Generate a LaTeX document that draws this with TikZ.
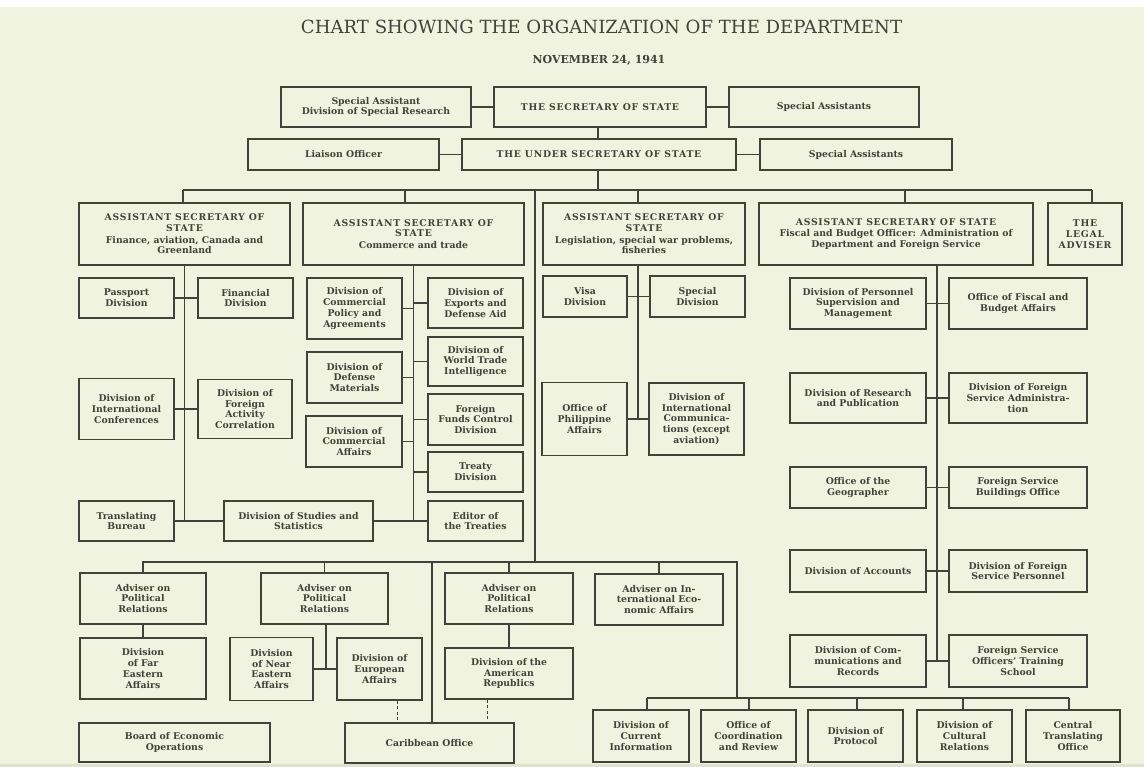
\documentclass[tikz,border=0pt]{standalone}
\usepackage{fontspec}
\setmainfont{DejaVu Serif}
\newfontfamily\capsfont[LetterSpace=8]{DejaVu Serif}

\definecolor{paper}{RGB}{240,243,223}
\definecolor{ink}{RGB}{66,66,58}
\newcommand{\hd}[1]{{\capsfont #1}}

\begin{document}
\begin{tikzpicture}[x=1pt,y=-1pt]
\tikzstyle{box} = [draw=ink,line width=1.3pt,rectangle,align=center,inner sep=1pt,text=ink,font=\bfseries\fontsize{9.3}{10.7}\selectfont]
\tikzstyle{link} = [draw=ink,line width=1.3pt]
\tikzstyle{dashlink} = [link,line width=1pt,dash pattern=on 3pt off 2.5pt]

% paper
\fill[paper] (0,0) rectangle (1144,767);
\fill[white] (0,0) rectangle (1144,7);
\fill[paper!85!gray] (0,764) rectangle (1144,767);
\useasboundingbox (0,0) rectangle (1144,767);

\node[text=ink,font=\fontsize{18.1}{20}\selectfont] (title) at (601.5,27) {CHART SHOWING THE ORGANIZATION OF THE DEPARTMENT};
\node[text=ink,font=\bfseries\fontsize{11}{12}\selectfont] (date) at (599,60) {NOVEMBER 24, 1941};

% top offices
\node[box,minimum width=190,minimum height=40] (spa) at (376,107) {Special Assistant\\Division of Special Research};
\node[box,minimum width=212,minimum height=40] (sec) at (600,107) {\hd{THE SECRETARY OF STATE}};
\node[box,minimum width=190,minimum height=40] (ssa) at (824,107) {Special Assistants};
\node[box,minimum width=191,minimum height=31] (liaison) at (343.5,154.5) {Liaison Officer};
\node[box,minimum width=274,minimum height=31] (under) at (599,154.5) {\hd{THE UNDER SECRETARY OF STATE}};
\node[box,minimum width=192,minimum height=31] (usa) at (856,154.5) {Special Assistants};

% assistant secretaries
\node[box,minimum width=211,minimum height=62] (asA) at (184.5,234) {\hd{ASSISTANT SECRETARY OF}\\\hd{STATE}\\[1pt]Finance, aviation, Canada and\\Greenland};
\node[box,minimum width=221,minimum height=62] (asB) at (413.5,234) {\hd{ASSISTANT SECRETARY OF}\\\hd{STATE}\\[1pt]Commerce and trade};
\node[box,minimum width=202,minimum height=62] (asC) at (644,234) {\hd{ASSISTANT SECRETARY OF}\\\hd{STATE}\\[1pt]Legislation, special war problems,\\fisheries};
\node[box,minimum width=274,minimum height=62] (asD) at (896,234) {\hd{ASSISTANT SECRETARY OF STATE}\\[1pt]Fiscal and Budget Officer: Administration of\\Department and Foreign Service};
\node[box,minimum width=74,minimum height=62] (legal) at (1085,234) {\hd{THE}\\\hd{LEGAL}\\\hd{ADVISER}};

% finance, aviation
\node[box,minimum width=95,minimum height=40] (passport) at (126.5,298) {Passport\\Division};
\node[box,minimum width=95,minimum height=40] (financial) at (245.5,298) {Financial\\Division};
\node[box,minimum width=95,minimum height=61] (conferences) at (126.5,409) {Division of\\International\\Conferences};
\node[box,minimum width=94,minimum height=59] (foreignAct) at (245,409) {Division of\\Foreign\\Activity\\Correlation};
\node[box,minimum width=95,minimum height=40] (translating) at (126.5,521) {Translating\\Bureau};
\node[box,minimum width=149,minimum height=40] (studies) at (298.5,521) {Division of Studies and\\Statistics};

% commerce and trade
\node[box,minimum width=95,minimum height=61] (policy) at (354.5,308.5) {Division of\\Commercial\\Policy and\\Agreements};
\node[box,minimum width=95,minimum height=51] (defense) at (354.5,377.5) {Division of\\Defense\\Materials};
\node[box,minimum width=96,minimum height=51] (commAff) at (354,441.5) {Division of\\Commercial\\Affairs};
\node[box,minimum width=95,minimum height=50] (exports) at (475.5,303) {Division of\\Exports and\\Defense Aid};
\node[box,minimum width=95,minimum height=49] (worldTrade) at (475.5,361.5) {Division of\\World Trade\\Intelligence};
\node[box,minimum width=95,minimum height=51] (funds) at (475.5,419.5) {Foreign\\Funds Control\\Division};
\node[box,minimum width=95,minimum height=40] (treaty) at (475.5,472) {Treaty\\Division};
\node[box,minimum width=95,minimum height=40] (editor) at (475.5,521) {Editor of\\the Treaties};

% legislation
\node[box,minimum width=84,minimum height=41] (visa) at (585,296.5) {Visa\\Division};
\node[box,minimum width=95,minimum height=41] (special) at (697.5,296.5) {Special\\Division};
\node[box,minimum width=85,minimum height=73] (philippine) at (584.5,419) {Office of\\Philippine\\Affairs};
\node[box,minimum width=95,minimum height=72] (intlComm) at (696.5,419) {Division of\\International\\Communica-\\tions (except\\aviation)};

% fiscal and budget
\node[box,minimum width=136,minimum height=51] (personnel) at (858,303.5) {Division of Personnel\\Supervision and\\Management};
\node[box,minimum width=138,minimum height=51] (fiscal) at (1018,303.5) {Office of Fiscal and\\Budget Affairs};
\node[box,minimum width=136,minimum height=50] (research) at (858,398) {Division of Research\\and Publication};
\node[box,minimum width=138,minimum height=50] (fsAdmin) at (1018,398) {Division of Foreign\\Service Administra-\\tion};
\node[box,minimum width=136,minimum height=41] (geographer) at (858,487.5) {Office of the\\Geographer};
\node[box,minimum width=138,minimum height=41] (fsBuildings) at (1018,487.5) {Foreign Service\\Buildings Office};
\node[box,minimum width=136,minimum height=42] (accounts) at (858,571) {Division of Accounts};
\node[box,minimum width=138,minimum height=42] (fsPersonnel) at (1018,571) {Division of Foreign\\Service Personnel};
\node[box,minimum width=136,minimum height=52] (commRecords) at (858,661) {Division of Com-\\munications and\\Records};
\node[box,minimum width=138,minimum height=52] (training) at (1018,661) {Foreign Service\\Officers' Training\\School};

% political relations
\node[box,minimum width=126,minimum height=51] (adv1) at (143,598.5) {Adviser on\\Political\\Relations};
\node[box,minimum width=126,minimum height=61] (farEast) at (143,668.5) {Division\\of Far\\Eastern\\Affairs};
\node[box,minimum width=127,minimum height=51] (adv2) at (324.5,598.5) {Adviser on\\Political\\Relations};
\node[box,minimum width=83,minimum height=63] (nearEast) at (271.5,669) {Division\\of Near\\Eastern\\Affairs};
\node[box,minimum width=85,minimum height=62] (european) at (379.5,669) {Division of\\European\\Affairs};
\node[box,minimum width=128,minimum height=51] (adv3) at (509,598.5) {Adviser on\\Political\\Relations};
\node[box,minimum width=128,minimum height=51] (american) at (509,673.5) {Division of the\\American\\Republics};
\node[box,minimum width=128,minimum height=51] (advEcon) at (659,599.5) {Adviser on In-\\ternational Eco-\\nomic Affairs};
\node[box,minimum width=191,minimum height=39] (board) at (174.5,742.5) {Board of Economic\\Operations};
\node[box,minimum width=169,minimum height=40] (caribbean) at (429.5,743) {Caribbean Office};

% bottom row
\node[box,minimum width=96,minimum height=52] (currentInfo) at (641,736) {Division of\\Current\\Information};
\node[box,minimum width=95,minimum height=52] (coordination) at (748.5,736) {Office of\\Coordination\\and Review};
\node[box,minimum width=95,minimum height=52] (protocol) at (855.5,736) {Division of\\Protocol};
\node[box,minimum width=95,minimum height=52] (cultural) at (964.5,736) {Division of\\Cultural\\Relations};
\node[box,minimum width=94,minimum height=52] (cto) at (1073,736) {Central\\Translating\\Office};

% connectors, top
\draw[link] (spa) -- (sec);
\draw[link] (sec) -- (ssa);
\draw[link] (liaison) -- (under);
\draw[link] (under) -- (usa);
\draw[link] ([xshift=-2pt]sec.south) -- ([xshift=-2pt]sec.south |- under.north);

\coordinate (bus) at (0,190);
\coordinate (mainTop) at (535,190);
\coordinate (mainBot) at (535,562);
\draw[link] ([xshift=-1pt]under.south) -- ([xshift=-1pt]under.south |- bus);
\draw[link] ([xshift=-1.5pt]asA.north |- bus) -- ([xshift=7pt]legal.north |- bus);
\foreach \n/\s in {asA/-1.5,asB/-8.5,asC/-6,asD/9,legal/7}
  \draw[link] ([xshift=\s pt]\n.north) -- ([xshift=\s pt]\n.north |- bus);
\draw[link] (mainTop) -- (mainBot);

% finance, aviation
\draw[link] (asA.south) -- (asA.south |- translating.east);
\draw[link] (passport) -- (financial);
\draw[link] (conferences) -- (foreignAct);
\draw[link] (translating) -- (studies);
\draw[link] (studies) -- (editor);

% commerce and trade
\draw[link] (asB.south) -- (asB.south |- editor.west);
\foreach \n in {policy,defense,commAff,exports,worldTrade,funds,treaty}
  \draw[link] (\n) -- (\n -| asB.south);

% legislation
\coordinate (trunkC) at ([xshift=-6pt]asC.south);
\draw[link] (trunkC) -- (trunkC |- philippine.east);
\draw[link] (visa) -- (special);
\draw[link] (philippine) -- (intlComm);

% fiscal and budget
\coordinate (trunkD) at ([xshift=41pt]asD.south);
\draw[link] (trunkD) -- (trunkD |- training.west);
\draw[link] (personnel) -- (fiscal);
\draw[link] (research) -- (fsAdmin);
\draw[link] (geographer) -- (fsBuildings);
\draw[link] (accounts) -- (fsPersonnel);
\draw[link] (commRecords) -- (training);

% lower part
\coordinate (lowBus) at (0,562);
\coordinate (elbow) at (737,562);
\coordinate (lowBus2) at (0,698);
\draw[link] ([xshift=-1pt]adv1.north |- lowBus) -- (elbow) -- (elbow |- lowBus2);
\foreach \n in {adv1,adv2,adv3,advEcon}
  \draw[link] (\n.north) -- (\n.north |- lowBus);
\draw[link] ([xshift=2.5pt]caribbean.north) -- ([xshift=2.5pt]caribbean.north |- lowBus);
\draw[link] (adv1) -- (farEast);
\draw[link] (adv3) -- (american);
\draw[link] ([xshift=1.5pt]adv2.south) -- ([xshift=1.5pt]adv2.south |- nearEast.east);
\draw[link] (nearEast) -- (european);
\draw[dashlink] ([xshift=17.5pt]european.south) -- ([xshift=17.5pt]european.south |- caribbean.north);
\draw[dashlink] ([xshift=-22pt]american.south) -- ([xshift=-22pt]american.south |- caribbean.north);

\draw[link] ([xshift=6pt]currentInfo.north |- lowBus2) -- ([xshift=-4pt]cto.north |- lowBus2);
\foreach \n/\s in {currentInfo/6,coordination/0.5,protocol/1.5,cultural/-1.5,cto/-4}
  \draw[link] ([xshift=\s pt]\n.north) -- ([xshift=\s pt]\n.north |- lowBus2);
\end{tikzpicture}
\end{document}
